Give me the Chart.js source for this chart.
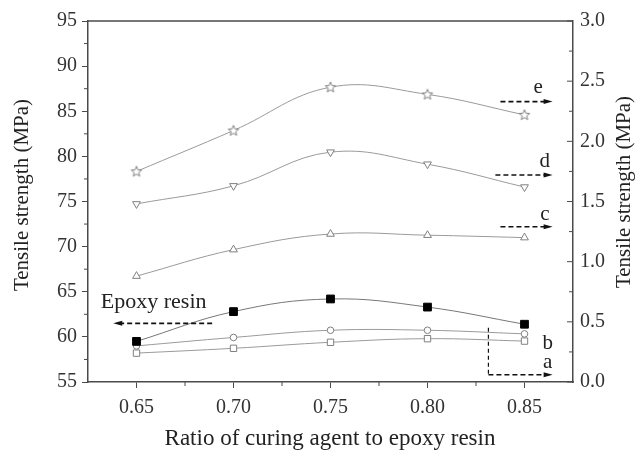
<!DOCTYPE html>
<html lang="en">
<head>
    <meta charset="UTF-8">
    <title>Tensile strength vs curing agent ratio</title>
    <script src="https://cdn.jsdelivr.net/npm/chart.js"></script>
    <style>
        body { margin: 0; background: #fff; }
        #wrap { width: 635px; height: 450px; }
    </style>
</head>
<body>
    <div id="wrap"><canvas id="chart" width="635" height="450"></canvas></div>

    <script>
        // Ratio of curing agent to epoxy resin
        const ratios = [0.65, 0.70, 0.75, 0.80, 0.85];
        // Neat epoxy resin, left axis (MPa)
        const epoxyResin = [59.5, 62.8, 64.2, 63.3, 61.4];
        // Samples a-e, right axis (MPa)
        const seriesA = [0.24, 0.28, 0.33, 0.36, 0.34];
        const seriesB = [0.30, 0.37, 0.43, 0.43, 0.40];
        const seriesC = [0.88, 1.10, 1.23, 1.22, 1.20];
        const seriesD = [1.48, 1.63, 1.91, 1.81, 1.62];
        const seriesE = [1.75, 2.09, 2.45, 2.39, 2.22];

        const xTicks = [0.65, 0.70, 0.75, 0.80, 0.85];
        const leftTicks = [55, 60, 65, 70, 75, 80, 85, 90, 95];
        const rightTicks = [0.0, 0.5, 1.0, 1.5, 2.0, 2.5, 3.0];

        const FONT = "'Liberation Serif', 'Times New Roman', serif";
        const AXIS = '#4a4a4a';
        const LINE = '#9a9a9a';
        const MARK = '#808080';

        // outlined five-point star used as a marker
        function starMarker() {
            const c = document.createElement('canvas');
            c.width = 14; c.height = 14;
            const g = c.getContext('2d');
            g.beginPath();
            for (let i = 0; i < 10; i++) {
                const r = i % 2 === 0 ? 5.5 : 2.4;
                const a = -Math.PI / 2 + i * Math.PI / 5;
                g.lineTo(7 + r * Math.cos(a), 7.3 + r * Math.sin(a));
            }
            g.closePath();
            g.fillStyle = '#fff';
            g.fill();
            g.strokeStyle = MARK;
            g.lineWidth = 1;
            g.stroke();
            return c;
        }

        function pts(ys) {
            return ratios.map((x, i) => ({ x: x, y: ys[i] }));
        }

        function openSeries(label, ys, style, extra) {
            return Object.assign({
                label: label,
                data: pts(ys),
                yAxisID: 'y1',
                borderColor: LINE,
                borderWidth: 1,
                tension: 0.4,
                pointStyle: style,
                pointBackgroundColor: '#fff',
                pointBorderColor: MARK,
                pointBorderWidth: 1,
                pointRadius: 4.5
            }, extra || {});
        }

        function tickSetter(list) {
            return function (scale) {
                scale.ticks = list.map(v => ({ value: v }));
            };
        }

        // arrows, labels, minor ticks, frame and axis titles
        const decorations = {
            id: 'decorations',
            afterDraw(chart) {
                const ctx = chart.ctx;
                const area = chart.chartArea;
                const x = chart.scales.x, yl = chart.scales.y, yr = chart.scales.y1;

                ctx.save();
                ctx.strokeStyle = AXIS;
                ctx.lineWidth = 1.5;
                // top frame line
                ctx.beginPath();
                ctx.moveTo(area.left, area.top);
                ctx.lineTo(area.right, area.top);
                ctx.stroke();

                // minor ticks, and the right axis ticks which point inward
                ctx.lineWidth = 1;
                ctx.beginPath();
                [0.675, 0.725, 0.775, 0.825].forEach(v => {
                    const px = x.getPixelForValue(v);
                    ctx.moveTo(px, area.bottom);
                    ctx.lineTo(px, area.bottom + 4);
                });
                [57.5, 62.5, 67.5, 72.5, 77.5, 82.5, 87.5, 92.5].forEach(v => {
                    const py = yl.getPixelForValue(v);
                    ctx.moveTo(area.left, py);
                    ctx.lineTo(area.left - 4, py);
                });
                [0.25, 0.75, 1.25, 1.75, 2.25, 2.75].forEach(v => {
                    const py = yr.getPixelForValue(v);
                    ctx.moveTo(area.right, py);
                    ctx.lineTo(area.right - 4, py);
                });
                rightTicks.forEach(v => {
                    const py = yr.getPixelForValue(v);
                    ctx.moveTo(area.right, py);
                    ctx.lineTo(area.right - 6, py);
                });
                ctx.stroke();

                // dashed arrows
                function arrow(x0, x1, py) {
                    const a = x.getPixelForValue(x0), b = x.getPixelForValue(x1);
                    const dir = Math.sign(b - a);
                    ctx.strokeStyle = '#111';
                    ctx.lineWidth = 1.6;
                    ctx.setLineDash([5, 3]);
                    ctx.beginPath();
                    ctx.moveTo(a, py);
                    ctx.lineTo(b - dir * 6, py);
                    ctx.stroke();
                    ctx.setLineDash([]);
                    ctx.fillStyle = '#111';
                    ctx.beginPath();
                    ctx.moveTo(b, py);
                    ctx.lineTo(b - dir * 9, py - 2.5);
                    ctx.lineTo(b - dir * 9, py + 2.5);
                    ctx.closePath();
                    ctx.fill();
                }
                arrow(0.689, 0.638, yl.getPixelForValue(61.5));
                arrow(0.8376, 0.8645, yr.getPixelForValue(2.33));
                arrow(0.835, 0.8645, yr.getPixelForValue(1.72));
                arrow(0.8376, 0.8645, yr.getPixelForValue(1.29));
                arrow(0.8314, 0.8645, yr.getPixelForValue(0.06));

                // vertical dashed marker for sample a
                const vx = x.getPixelForValue(0.8314);
                ctx.strokeStyle = '#111';
                ctx.lineWidth = 1.2;
                ctx.setLineDash([4, 3]);
                ctx.beginPath();
                ctx.moveTo(vx, yr.getPixelForValue(0.45));
                ctx.lineTo(vx, yr.getPixelForValue(0.06));
                ctx.stroke();
                ctx.setLineDash([]);

                // labels
                ctx.fillStyle = '#222';
                ctx.font = '22px ' + FONT;
                ctx.textBaseline = 'middle';
                ctx.textAlign = 'left';
                ctx.fillText('Epoxy resin', x.getPixelForValue(0.6316), yl.getPixelForValue(63.85));
                ctx.textAlign = 'center';
                ctx.font = '21px ' + FONT;
                ctx.fillText('e', x.getPixelForValue(0.857), yr.getPixelForValue(2.45));
                ctx.fillText('d', x.getPixelForValue(0.8605), yr.getPixelForValue(1.83));
                ctx.fillText('c', x.getPixelForValue(0.8605), yr.getPixelForValue(1.39));
                ctx.fillText('b', x.getPixelForValue(0.862), yr.getPixelForValue(0.32));
                ctx.fillText('a', x.getPixelForValue(0.862), yr.getPixelForValue(0.16));

                // axis titles
                ctx.font = '21px ' + FONT;
                ctx.fillStyle = '#222';
                ctx.save();
                ctx.translate(22, 195);
                ctx.rotate(-Math.PI / 2);
                ctx.fillText('Tensile strength (MPa)', 0, 0);
                ctx.restore();
                ctx.save();
                ctx.translate(624, 192);
                ctx.rotate(-Math.PI / 2);
                ctx.fillText('Tensile strength (MPa)', 0, 0);
                ctx.restore();
                ctx.font = '23px ' + FONT;
                ctx.fillText('Ratio of curing agent to epoxy resin', 330, 439);

                ctx.restore();
            }
        };

        const tickFont = { family: FONT, size: 20 };

        new Chart(document.getElementById('chart'), {
            type: 'line',
            data: {
                datasets: [
                    {
                        label: 'Epoxy resin',
                        data: pts(epoxyResin),
                        yAxisID: 'y',
                        borderColor: '#777',
                        borderWidth: 1,
                        tension: 0.4,
                        pointStyle: 'rect',
                        pointBackgroundColor: '#000',
                        pointBorderColor: '#000',
                        pointRadius: 5.5
                    },
                    openSeries('a', seriesA, 'rect'),
                    openSeries('b', seriesB, 'circle', { pointRadius: 3.3 }),
                    openSeries('c', seriesC, 'triangle'),
                    openSeries('d', seriesD, 'triangle', { pointRotation: 180 }),
                    openSeries('e', seriesE, starMarker(), { pointRadius: 7 })
                ]
            },
            options: {
                responsive: false,
                animation: false,
                layout: { padding: { top: 21, left: 0, right: 0, bottom: 0 } },
                plugins: { legend: { display: false }, tooltip: { enabled: false } },
                scales: {
                    x: {
                        type: 'linear',
                        min: 0.625,
                        max: 0.875,
                        afterBuildTicks: tickSetter(xTicks),
                        afterFit: s => { s.height = 68; },
                        grid: { drawOnChartArea: false, tickLength: 6, tickColor: AXIS },
                        border: { color: AXIS, width: 1.5 },
                        ticks: {
                            font: tickFont, color: '#333', padding: 8, maxRotation: 0,
                            callback: v => v.toFixed(2)
                        }
                    },
                    y: {
                        position: 'left',
                        min: 55,
                        max: 95,
                        afterBuildTicks: tickSetter(leftTicks),
                        afterFit: s => { s.width = 88; },
                        grid: { drawOnChartArea: false, tickLength: 6, tickColor: AXIS },
                        border: { color: AXIS, width: 1.5 },
                        ticks: { font: tickFont, color: '#333', padding: 5 }
                    },
                    y1: {
                        position: 'right',
                        min: 0,
                        max: 3,
                        afterBuildTicks: tickSetter(rightTicks),
                        afterFit: s => { s.width = 62; },
                        grid: { drawOnChartArea: false, drawTicks: false },
                        border: { color: AXIS, width: 1.5 },
                        ticks: {
                            font: tickFont, color: '#333', padding: 7,
                            callback: v => v.toFixed(1)
                        }
                    }
                }
            },
            plugins: [decorations]
        });
    </script>
</body>
</html>
